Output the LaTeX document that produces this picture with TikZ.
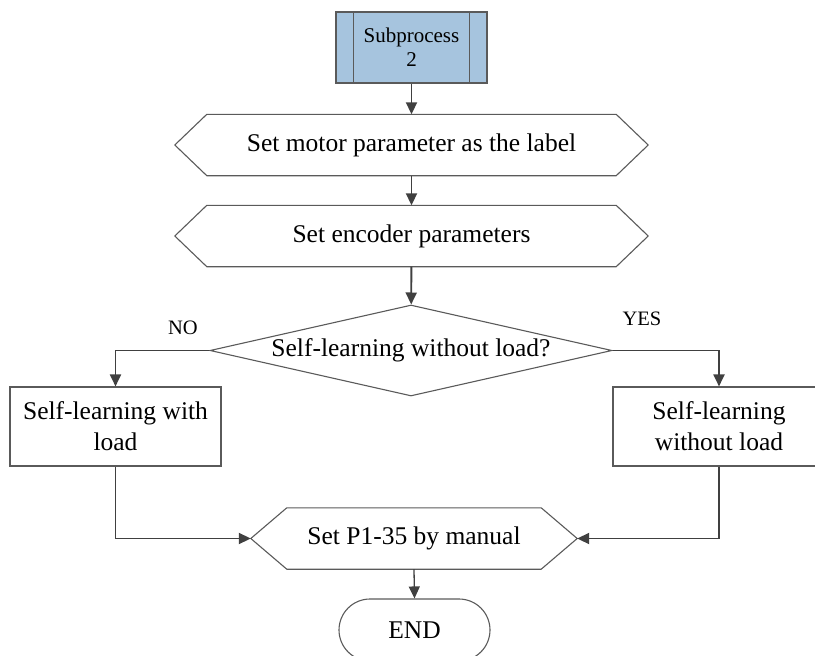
\documentclass[tikz,border=0pt]{standalone}
\usepackage{fontspec}
\setmainfont{Liberation Serif}
\usepackage{xcolor}
\usepackage{tikz}
\usetikzlibrary{arrows.meta,shapes.geometric,shapes.misc}
\definecolor{subblue}{RGB}{166,196,222}
\definecolor{linegray}{RGB}{64,64,64}
\definecolor{edgegray}{RGB}{90,90,90}
\newcommand{\hexframe}[2]{\draw[edgegray,line width=1.1pt,line join=miter] (#1.west) -- ([xshift=#2]#1.north west)
  -- ([xshift=-#2]#1.north east) -- (#1.east) -- ([xshift=-#2]#1.south east) -- ([xshift=#2]#1.south west) -- cycle;}

\begin{document}
\begin{tikzpicture}[x=1pt,y=-1pt,
    font=\fontsize{25.5}{31}\selectfont,
    box/.style={draw=edgegray,line width=1.1pt,fill=white,inner sep=0pt},
    hexa/.style={inner sep=0pt,minimum height=61pt},
    conn/.style={draw=linegray,line width=1.9pt,-{Triangle[length=12pt,width=11pt]}}]
    \useasboundingbox (0,0) rectangle (815,656);

    \node[box,fill=subblue,minimum width=151pt,minimum height=71pt,align=center,
      font=\fontsize{21}{24}\selectfont] (sub) at (411.5,47.5) {Subprocess\\2};
    \draw[edgegray,line width=1.1pt] ([xshift=18pt]sub.north west) -- ([xshift=18pt]sub.south west);
    \draw[edgegray,line width=1.1pt] ([xshift=-18pt]sub.north east) -- ([xshift=-18pt]sub.south east);

    \node[hexa,minimum width=473pt] (motor) at (411.5,145) {Set motor parameter as the label};
    \hexframe{motor}{32pt}
    \node[hexa,minimum width=473pt] (enc) at (411.5,236) {Set encoder parameters};
    \hexframe{enc}{32pt}
    \node[box,diamond,aspect=4.4,minimum width=402pt,minimum height=91pt] (ask) at (411,350.5) {Self-learning without load?};
    \node[box,minimum width=211pt,minimum height=79pt,align=center] (withload) at (115.5,426.5) {Self-learning with\\load};
    \node[box,minimum width=212pt,minimum height=79pt,align=center] (noload) at (719,426.5) {Self-learning\\without load};
    \node[hexa,minimum width=326pt] (manual) at (414,538.5) {Set P1-35 by manual};
    \hexframe{manual}{36pt}
    \node[box,rounded rectangle,minimum width=151pt,minimum height=62pt] (fin) at (414.5,630) {END};

    \node[font=\fontsize{20.5}{24}\selectfont] (no) at (183,328) {NO};
    \node[font=\fontsize{20.5}{24}\selectfont] (yes) at (642,319) {YES};

    \draw[conn] (sub) -- (motor);
    \draw[conn] (motor) -- (enc);
    \draw[conn] (enc) -- (ask);
    \draw[conn] (ask.west) -| (withload.north);
    \draw[conn] (ask.east) -| (noload.north);
    \draw[conn] (withload.south) |- (manual.west);
    \draw[conn] (noload.south) |- (manual.east);
    \draw[conn,line width=1.3pt] (manual.south) -- (fin.north);
\end{tikzpicture}
\end{document}
